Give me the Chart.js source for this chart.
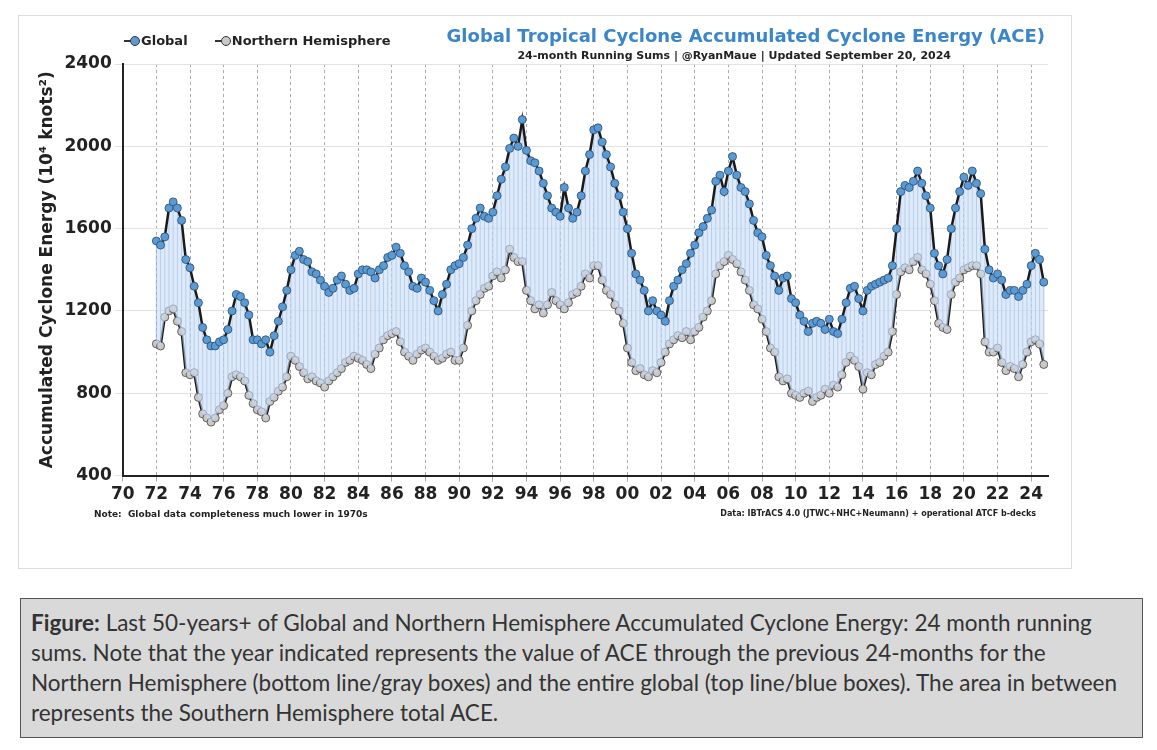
<!DOCTYPE html>
<html>
<head>
<meta charset="utf-8">
<script src="https://cdn.jsdelivr.net/npm/chart.js@4"></script>
<style>
  body { margin: 0; background: #fff; font-family: Lato, sans-serif; }
  #panel { position: absolute; left: 18px; top: 15px; width: 1052px; height: 552px; border: 1px solid #ddd; background: #fff; }
  #panel canvas { position: absolute; left: 0; top: 0; }
  .ov { position: absolute; white-space: nowrap; font-family: "DejaVu Sans", sans-serif; }
  #title { right: 26px; top: 9px; font-size: 18px; font-weight: bold; color: #3b86c8; }
  #sub { right: 120px; top: 33px; font-size: 11px; font-weight: bold; color: #222; }
  #legend { left: 105px; top: 17px; font-size: 13px; font-weight: bold; color: #222; }
  #noteL { left: 75px; top: 493px; font-size: 9px; font-weight: bold; color: #222; }
  #noteR { right: 35px; top: 493px; font-size: 8px; font-weight: bold; color: #222; }
  .dot { display: inline-block; width: 8px; height: 8px; border-radius: 50%; border: 1px solid #333; vertical-align: middle; margin: 0 1px 2px -3px; }
  .ln { display: inline-block; width: 9px; height: 2px; background: #333; vertical-align: middle; margin-bottom: 2px; }
  #caption { position: absolute; left: 20px; top: 598px; width: 1101px; height: 120px; padding: 9px 10px; background: #d9d9d9; border: 1px solid #555; font-size: 22.5px; line-height: 30px; color: #333; }
</style>
</head>
<body>
<div id="panel">
  <canvas id="grafica" width="1052" height="552"></canvas>
  <div class="ov" id="legend"><span class="ln"></span><span class="dot" style="background:#5b9bd5"></span>Global &nbsp; &nbsp; &nbsp;<span class="ln"></span><span class="dot" style="background:#c8c8c8"></span>Northern Hemisphere</div>
  <div class="ov" id="title">Global Tropical Cyclone Accumulated Cyclone Energy (ACE)</div>
  <div class="ov" id="sub">24-month Running Sums | @RyanMaue | Updated September 20, 2024</div>
  <div class="ov" id="noteL">Note:&nbsp; Global data completeness much lower in 1970s</div>
  <div class="ov" id="noteR">Data: IBTrACS 4.0 (JTWC+NHC+Neumann) + operational ATCF b-decks</div>
</div>
<div id="caption"><b>Figure:</b> Last 50-years+ of Global and Northern Hemisphere Accumulated Cyclone Energy: 24 month running sums. Note that the year indicated represents the value of ACE through the previous 24-months for the Northern Hemisphere (bottom line/gray boxes) and the entire global (top line/blue boxes). The area in between represents the Southern Hemisphere total ACE.</div>
<script>
// quarterly samples starting 1972.0
const startYear = 1972;
const globalAce = [
  1540,1520,1560,1700, 1730,1700,1640,1450, 1410,1320,1240,1120, 1060,1030,1030,1050,
  1060,1110,1200,1280, 1270,1240,1180,1060, 1060,1040,1060,1000, 1080,1150,1220,1300,
  1400,1470,1490,1450, 1440,1390,1380,1350, 1320,1290,1310,1350, 1370,1330,1300,1310,
  1380,1400,1400,1390, 1360,1400,1420,1460, 1470,1510,1480,1420, 1390,1320,1310,1360,
  1340,1300,1250,1200, 1280,1330,1400,1420, 1430,1460,1520,1600, 1650,1700,1660,1650,
  1680,1760,1840,1900, 1990,2040,2000,2130, 1980,1930,1920,1880, 1820,1760,1700,1680,
  1660,1800,1700,1650, 1680,1760,1880,1960, 2080,2090,2020,1960, 1900,1820,1760,1680,
  1600,1480,1380,1350, 1300,1200,1250,1200, 1180,1150,1250,1320, 1350,1400,1430,1480,
  1520,1580,1610,1650, 1690,1830,1860,1780, 1880,1950,1860,1800, 1780,1720,1640,1580,
  1560,1470,1420,1370, 1300,1360,1370,1260, 1240,1180,1150,1100, 1140,1150,1140,1110,
  1160,1100,1090,1160, 1240,1310,1320,1260, 1200,1300,1320,1330, 1340,1350,1360,1420,
  1600,1780,1810,1800, 1830,1880,1820,1760, 1700,1480,1420,1380, 1450,1600,1700,1780,
  1850,1810,1880,1820, 1770,1500,1400,1360, 1380,1350,1280,1300, 1300,1270,1300,1330,
  1420,1480,1450,1340
];
const nhAce = [
  1040,1030,1170,1200, 1210,1150,1100,900, 890,900,780,700, 680,660,680,720,
  740,800,880,890, 880,860,790,750, 720,710,680,760, 780,810,830,880,
  980,960,930,900, 870,880,860,850, 830,860,880,900, 920,950,960,980,
  970,960,940,920, 990,1020,1060,1080, 1090,1100,1050,1000, 980,960,990,1010,
  1020,1000,980,960, 970,990,1000,960, 960,1020,1130,1200, 1250,1280,1310,1320,
  1370,1390,1360,1400, 1500,1460,1440,1440, 1300,1250,1210,1230, 1190,1230,1290,1250,
  1230,1210,1240,1280, 1290,1320,1380,1360, 1420,1420,1350,1300, 1280,1230,1200,1140,
  1020,950,910,920, 890,880,910,900, 950,1000,1040,1060, 1080,1070,1100,1060,
  1100,1120,1170,1200, 1250,1380,1420,1440, 1470,1450,1430,1390, 1350,1300,1230,1210,
  1160,1100,1020,1000, 880,860,870,800, 790,780,800,810, 760,780,790,820,
  800,840,830,890, 950,980,960,930, 820,900,890,940, 950,980,1000,1100,
  1280,1390,1410,1400, 1440,1460,1400,1380, 1330,1250,1140,1120, 1110,1280,1340,1360,
  1400,1410,1420,1420, 1380,1050,1000,1000, 1020,950,910,930, 920,880,940,1000,
  1050,1060,1040,940
];
const yTicks = [400, 800, 1200, 1600, 2000, 2400];

const toPoints = arr => arr.map((v, i) => ({ x: startYear + i / 4, y: v }));

// thin vertical lines from global down to NH at each sample
const dropLines = {
  id: 'dropLines',
  beforeDatasetsDraw(chart) {
    const { ctx, scales: { x, y } } = chart;
    ctx.save();
    ctx.strokeStyle = 'rgba(120,160,210,0.7)';
    ctx.lineWidth = 1;
    globalAce.forEach((g, i) => {
      const px = x.getPixelForValue(startYear + i / 4);
      ctx.beginPath();
      ctx.moveTo(px, y.getPixelForValue(g));
      ctx.lineTo(px, y.getPixelForValue(nhAce[i]));
      ctx.stroke();
    });
    ctx.restore();
  }
};

new Chart(document.getElementById('grafica'), {
  type: 'line',
  data: {
    datasets: [{
      label: 'Global',
      data: toPoints(globalAce),
      borderColor: '#1a1a1a',
      borderWidth: 2.5,
      backgroundColor: 'rgba(200,220,245,0.6)',
      pointBackgroundColor: '#5b9bd5',
      pointBorderColor: '#2a4a70',
      pointBorderWidth: 0.8,
      pointRadius: 4,
      fill: '+1'
    }, {
      label: 'Northern Hemisphere',
      data: toPoints(nhAce),
      borderColor: '#1a1a1a',
      borderWidth: 2.5,
      pointBackgroundColor: '#c8c8c8',
      pointBorderColor: '#444',
      pointBorderWidth: 0.8,
      pointRadius: 4,
      fill: false
    }]
  },
  options: {
    responsive: false,
    animation: false,
    layout: { padding: { top: 48, right: 23, bottom: 60, left: 14 } },
    plugins: { legend: { display: false }, tooltip: { enabled: false } },
    scales: {
      x: {
        type: 'linear',
        min: 1970,
        max: 2025,
        afterBuildTicks: axis => {
          const t = [];
          for (let v = 1970; v <= 2024; v += 2) t.push({ value: v });
          axis.ticks = t;
        },
        grid: { color: '#aaa', tickLength: 6 },
        border: { color: '#222', width: 2, dash: [3, 3] },
        ticks: {
          color: '#222',
          font: { family: 'DejaVu Sans', size: 17, weight: 'bold' },
          maxRotation: 0,
          callback: v => String(v % 100).padStart(2, '0')
        }
      },
      y: {
        min: 400,
        max: 2400,
        afterBuildTicks: axis => { axis.ticks = yTicks.map(v => ({ value: v })); },
        grid: { color: '#e2e2e2', tickLength: 8 },
        border: { color: '#222', width: 2 },
        ticks: { color: '#222', font: { family: 'DejaVu Sans', size: 17, weight: 'bold' }, callback: v => String(v) },
        title: {
          display: true,
          text: 'Accumulated Cyclone Energy (10⁴ knots²)',
          color: '#222',
          font: { family: 'DejaVu Sans', size: 17, weight: 'bold' }
        }
      }
    }
  },
  plugins: [dropLines]
});
</script>
</body>
</html>
